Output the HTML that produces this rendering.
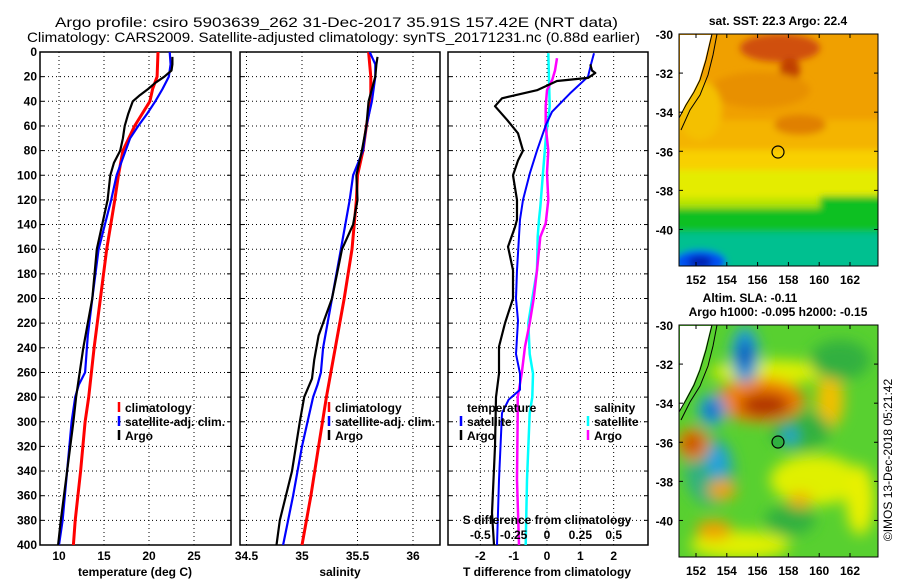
<!DOCTYPE html>
<html><head><meta charset="utf-8"><style>
html,body{margin:0;padding:0;background:#fff;}
svg{display:block;font-family:"Liberation Sans",sans-serif;}
.t{font-weight:bold;font-size:12px;fill:#000}
</style></head><body>
<svg id="fig" width="900" height="580" viewBox="0 0 900 580">
<defs>
<filter id="blur" filterUnits="userSpaceOnUse" x="600" y="0" width="300" height="600"><feGaussianBlur stdDeviation="7"/></filter>
<filter id="blurS" filterUnits="userSpaceOnUse" x="600" y="0" width="300" height="600"><feGaussianBlur stdDeviation="3.5"/></filter>
<clipPath id="clipTop"><rect x="679" y="34" width="199" height="232"/></clipPath>
<clipPath id="clipBot"><rect x="679" y="325" width="199" height="232"/></clipPath>
<clipPath id="c1"><rect x="40" y="52" width="191" height="493"/></clipPath>
<clipPath id="c2"><rect x="240" y="52" width="200" height="493"/></clipPath>
<clipPath id="c3"><rect x="448" y="52" width="200" height="493"/></clipPath>
</defs>
<text x="55" y="27" font-size="14" textLength="563" lengthAdjust="spacingAndGlyphs">Argo profile: csiro 5903639_262 31-Dec-2017 35.91S 157.42E (NRT data)</text>
<text x="27" y="42" font-size="14" textLength="613" lengthAdjust="spacingAndGlyphs">Climatology: CARS2009. Satellite-adjusted climatology: synTS_20171231.nc (0.88d earlier)</text>
<g id="panels"></g>

<!-- top map -->
<text x="778" y="25" text-anchor="middle" class="t">sat. SST: 22.3 Argo: 22.4</text>
<g clip-path="url(#clipTop)">
<rect x="679" y="34" width="199" height="232" fill="#f0a000"/>
<g filter="url(#blurS)">
<rect x="660" y="120" width="240" height="40" fill="#f4b400"/>
<rect x="660" y="150" width="240" height="40" fill="#f8d000"/>
<rect x="660" y="170" width="240" height="35" fill="#e4ec00"/>
<rect x="660" y="198" width="240" height="20" fill="#b8e400"/>
<rect x="660" y="208" width="240" height="30" fill="#10c020"/>
<rect x="820" y="196" width="80" height="20" fill="#10c020"/>
<rect x="660" y="232" width="240" height="40" fill="#00c090"/>
<ellipse cx="700" cy="262" rx="26" ry="12" fill="#0050f0"/>
<ellipse cx="700" cy="262" rx="12" ry="6" fill="#0020b0"/>
<ellipse cx="780" cy="48" rx="40" ry="14" fill="#d05010"/>
<ellipse cx="790" cy="70" rx="10" ry="12" fill="#c04000"/>
<ellipse cx="800" cy="125" rx="26" ry="10" fill="#e08000"/>
<ellipse cx="760" cy="90" rx="50" ry="18" fill="#e89000"/>
<ellipse cx="700" cy="110" rx="22" ry="30" fill="#f4c000"/>
</g>
</g>
<polygon points="680,35 711,35 705,60 699,80 693,92 685,105 680,116" fill="#ffffff"/>
<polyline points="712,34 706,60 700,80 694,92 686,105 679,118" fill="none" stroke="#000" stroke-width="1"/>
<polyline points="717,34 713,55 708,75 700,95 690,110 681,130" fill="none" stroke="#000" stroke-width="1"/>
<circle cx="778" cy="152" r="6" fill="none" stroke="#000" stroke-width="1.2"/>
<rect x="679" y="34" width="199" height="232" fill="none" stroke="#000"/>

<!-- bottom map -->
<text x="750" y="302" text-anchor="middle" class="t">Altim. SLA: -0.11</text>
<text x="778" y="316" text-anchor="middle" class="t">Argo h1000: -0.095 h2000: -0.15</text>
<g clip-path="url(#clipBot)">
<rect x="679" y="325" width="199" height="232" fill="#58d030"/>
<g filter="url(#blur)">
<ellipse cx="770" cy="372" rx="60" ry="12" fill="#e0f000"/>
<ellipse cx="815" cy="480" rx="45" ry="25" fill="#e0f000"/>
<ellipse cx="740" cy="545" rx="50" ry="14" fill="#e0f000"/>
<ellipse cx="860" cy="500" rx="14" ry="35" fill="#e8f000"/>
<ellipse cx="830" cy="400" rx="14" ry="28" fill="#f0c000"/>
<ellipse cx="840" cy="360" rx="30" ry="20" fill="#30b040"/>
<ellipse cx="800" cy="430" rx="30" ry="20" fill="#30b040"/>
<ellipse cx="790" cy="520" rx="25" ry="15" fill="#30b040"/>
<ellipse cx="710" cy="470" rx="25" ry="35" fill="#30b080"/>
<ellipse cx="760" cy="400" rx="45" ry="22" fill="#f08000"/>
<ellipse cx="765" cy="405" rx="25" ry="12" fill="#b03000"/>
<ellipse cx="745" cy="355" rx="14" ry="28" fill="#20a0e0"/>
<ellipse cx="745" cy="355" rx="6" ry="16" fill="#0030b0"/>
<ellipse cx="712" cy="410" rx="14" ry="16" fill="#20a0e0"/>
<ellipse cx="712" cy="410" rx="6" ry="7" fill="#0030b0"/>
<ellipse cx="693" cy="444" rx="16" ry="16" fill="#f08000"/>
<ellipse cx="693" cy="444" rx="8" ry="8" fill="#b03000"/>
<ellipse cx="717" cy="462" rx="10" ry="16" fill="#20a0e0"/>
<ellipse cx="790" cy="436" rx="7" ry="9" fill="#20a0e0"/>
<ellipse cx="722" cy="490" rx="14" ry="10" fill="#f0a000"/>
<ellipse cx="714" cy="530" rx="18" ry="10" fill="#f0a000"/>
<ellipse cx="800" cy="500" rx="12" ry="8" fill="#f0b000"/>
</g>
</g>
<polygon points="680,326 711,326 705,350 699,370 693,385 685,400 680,410" fill="#ffffff"/>
<polyline points="712,325 706,350 700,370 694,385 686,400 679,412" fill="none" stroke="#000"/>
<polyline points="717,325 713,346 708,366 700,386 690,402 681,420" fill="none" stroke="#000"/>
<circle cx="778" cy="442" r="6" fill="#30b040" stroke="#000" stroke-width="1.2"/>
<rect x="679" y="325" width="199" height="232" fill="none" stroke="#000"/>
<g id="mapaxes"></g>
<text transform="translate(892,460) rotate(-90)" text-anchor="middle" font-size="12">©IMOS 13-Dec-2018 05:21:42</text>
</svg>
<script>
// ---- data ----
const depthTicks = [0,20,40,60,80,100,120,140,160,180,200,220,240,260,280,300,320,340,360,380,400];
const tempTicks = [10,15,20,25];
const salTicks = [34.5,35,35.5,36];
const tdiffTicks = [-2,-1,0,1,2];
const sdiffTicks = [-0.5,-0.25,0,0.25,0.5];

const climTDepth = [0,20,30,40,60,80,100,120,160,200,240,280,300,340,380,400];
const climT =      [21.0,20.9,20.4,20.1,18.4,17.1,16.6,16.2,15.3,14.6,13.9,13.3,12.9,12.4,11.8,11.6];
const satTDepth = [0,10,20,30,40,50,60,70,80,100,120,160,200,230,260,270,280,300,340,380,400];
const satT =      [22.3,22.4,22.2,21.5,20.7,19.8,18.8,17.9,17.4,16.4,15.8,14.4,13.7,13.2,12.9,12.2,11.8,11.4,10.9,10.4,10.0];
const argoTDepth = [4,10,15,20,25,30,35,40,50,60,70,80,90,100,120,160,200,220,240,260,280,300,340,380,400];
const argoT =      [22.6,22.6,22.5,21.7,20.7,19.9,19.0,18.2,17.7,17.3,17.1,16.8,16.1,15.7,15.4,14.2,13.7,13.2,12.7,12.3,11.9,11.6,10.9,10.2,9.9];

const climSDepth = [0,20,40,60,80,100,120,160,200,240,280,320,360,400];
const climS =      [35.60,35.62,35.62,35.58,35.55,35.50,35.49,35.45,35.38,35.30,35.22,35.15,35.08,35.00];
const satSDepth = [0,10,20,40,60,80,100,120,160,200,240,260,270,280,320,360,400];
const satS =      [35.61,35.66,35.66,35.63,35.58,35.55,35.46,35.43,35.35,35.27,35.19,35.17,35.14,35.10,35.00,34.92,34.83];
const argoSDepth = [4,10,20,30,40,60,80,100,120,140,160,200,230,250,265,280,300,340,380,400];
const argoS =      [35.68,35.67,35.66,35.63,35.60,35.58,35.54,35.49,35.50,35.46,35.36,35.27,35.15,35.11,35.09,35.02,34.98,34.91,34.80,34.77];

const dTArgoDepth = [10,15,17,21,23.5,31,37.6,44,55,66,80,88,100,120,136,142,158,177,200,220,239,261,280,320,374,400];
const dTArgo =      [1.3,1.35,1.45,1.23,0.3,-0.3,-1.35,-1.56,-1.2,-0.87,-0.72,-0.87,-1.02,-0.9,-0.9,-0.96,-1.17,-1.02,-1.02,-1.26,-1.44,-1.44,-1.53,-1.56,-1.65,-1.59];
const dTSatDepth = [1,10,20,33.6,48.5,59,80,98,120,136,177,200,218,245,261,274,282,293,347,400];
const dTSat =      [1.41,1.32,1.23,0.69,0.15,-0.03,-0.3,-0.51,-0.72,-0.81,-0.9,-0.93,-0.87,-0.93,-0.81,-0.81,-1.15,-1.35,-1.44,-1.5];
const dSSatDepth = [1,44,71,98,126,136,150,177,200,220,245,261,280,293,347,400];
const dSSat =      [0.01,0.02,-0.01,-0.03,-0.05,-0.06,-0.07,-0.075,-0.11,-0.14,-0.13,-0.105,-0.11,-0.13,-0.15,-0.16];
const dSArgoDepth = [5,15,22.5,31,44,60,80,98,120,139,150,177,200,220,239,261,280,293,347,400];
const dSArgo =      [0.075,0.06,0.04,0,-0.01,-0.01,0.01,0,0.01,-0.01,-0.05,-0.075,-0.1,-0.13,-0.165,-0.19,-0.22,-0.22,-0.225,-0.21];

const latTicks = [-30,-32,-34,-36,-38,-40];
const lonTicks = [152,154,156,158,160,162];

// ---- scales ----
const Y0 = 52, Y1 = 545;
const yD = d => Y0 + d*(Y1-Y0)/400;
const xT = v => 59 + (v-10)*9;
const xS = v => 302 + (v-35)*111;
const xDT = v => 547 + v*33.33;
const xDS = v => 547 + v*133.33;
const NS = 'http://www.w3.org/2000/svg';
const root = document.getElementById('panels');
function mk(tag, attrs, parent){ const e=document.createElementNS(NS,tag); for(const k in attrs) e.setAttribute(k,attrs[k]); (parent||root).appendChild(e); return e; }

function panel(name, x0, x1, xs, ticks, fmt){
  const g = mk('g',{});
  
  
  depthTicks.forEach(d=>{
    if(d>0 && d<400){ const l=mk('line',{x1:x0,x2:x1,y1:yD(d),y2:yD(d),stroke:'#000','stroke-dasharray':'1,3'},g);
        }
    mk('line',{x1:x0,x2:x0+4,y1:yD(d),y2:yD(d),stroke:'#000'},g);
    mk('line',{x1:x1-4,x2:x1,y1:yD(d),y2:yD(d),stroke:'#000'},g);
  });
  ticks.forEach(v=>{
    const x=xs(v);
    const l=mk('line',{x1:x,x2:x,y1:Y0,y2:Y1,stroke:'#000','stroke-dasharray':'1,3'},g);
     
    if(fmt){ const t=mk('text',{x:x,y:560,'text-anchor':'middle',class:'t'},g); t.textContent=fmt(v);
        }
  });
  const r=mk('rect',{x:x0,y:Y0,width:x1-x0,height:Y1-Y0,fill:'none',stroke:'#000','stroke-width':1.5},g);
   
  return g;
}
function line(g, depths, vals, xs, color, w, name, clip){
  const pts = depths.map((d,i)=>xs(vals[i]).toFixed(1)+','+yD(d).toFixed(1)).join(' ');
  const p = mk('polyline',{points:pts,fill:'none',stroke:color,'stroke-width':w,'stroke-linejoin':'round','clip-path':clip},g);
  
  
}
function txt(x,y,s,name,anchor,g){ const t=mk('text',{x:x,y:y,class:'t','text-anchor':anchor||'start'},g); t.textContent=s;
    return t; }
function legMark(x,y,color,g){ const l=mk('line',{x1:x,x2:x,y1:y-10,y2:y,stroke:color,'stroke-width':2.5},g);
    }

depthTicks.forEach(d=>{ txt(37, yD(d)+4, String(d), 'y-tick-label','end'); });

const g1 = panel('temperature-panel',40,231,xT,tempTicks,v=>String(v));
line(g1, climTDepth, climT, xT, '#ff0000', 3, 'climatology-temperature-line','url(#c1)');
line(g1, satTDepth, satT, xT, '#0000ff', 2.2, 'satellite-temperature-line','url(#c1)');
line(g1, argoTDepth, argoT, xT, '#000000', 2.2, 'argo-temperature-line','url(#c1)');
txt(135,576,'temperature (deg C)','x-axis-title-temperature','middle');
legMark(119,412,'#ff0000',g1); txt(125,412,'climatology','legend-climatology');
legMark(119,426,'#0000ff',g1); txt(125,426,'satellite-adj. clim.','legend-satellite');
legMark(119,440,'#000',g1); txt(125,440,'Argo','legend-argo');

const g2 = panel('salinity-panel',240,440,xS,salTicks,v=>String(v));
line(g2, climSDepth, climS, xS, '#ff0000', 3, 'climatology-salinity-line','url(#c2)');
line(g2, satSDepth, satS, xS, '#0000ff', 2.2, 'satellite-salinity-line','url(#c2)');
line(g2, argoSDepth, argoS, xS, '#000000', 2.2, 'argo-salinity-line','url(#c2)');
txt(340,576,'salinity','x-axis-title-salinity','middle');
legMark(329,412,'#ff0000',g2); txt(335,412,'climatology','legend-climatology-2');
legMark(329,426,'#0000ff',g2); txt(335,426,'satellite-adj. clim.','legend-satellite-2');
legMark(329,440,'#000',g2); txt(335,440,'Argo','legend-argo-2');

const g3 = panel('difference-panel',448,648,xDT,tdiffTicks,v=>String(v));
line(g3, dSSatDepth, dSSat, xDS, '#00ffff', 2.5, 'salinity-satellite-diff-line','url(#c3)');
line(g3, dSArgoDepth, dSArgo, xDS, '#ff00ff', 2.5, 'salinity-argo-diff-line','url(#c3)');
line(g3, dTSatDepth, dTSat, xDT, '#0000ff', 2, 'temperature-satellite-diff-line','url(#c3)');
line(g3, dTArgoDepth, dTArgo, xDT, '#000000', 2.2, 'temperature-argo-diff-line','url(#c3)');
sdiffTicks.forEach(v=>{ txt(xDS(v), 539, String(v), 's-diff-tick-label','middle'); });
txt(547,524,'S difference from climatology','s-diff-axis-title','middle');
txt(547,576,'T difference from climatology','t-diff-axis-title','middle');
txt(467,412,'temperature','legend-temperature-header');
legMark(461,426,'#0000ff',g3); txt(467,426,'satellite','legend-t-satellite');
legMark(461,440,'#000',g3); txt(467,440,'Argo','legend-t-argo');
txt(594,412,'salinity','legend-salinity-header');
legMark(588,426,'#00ffff',g3); txt(594,426,'satellite','legend-s-satellite');
legMark(588,440,'#ff00ff',g3); txt(594,440,'Argo','legend-s-argo');

const ma = document.getElementById('mapaxes');
[[34,266],[325,557]].forEach(([top,bot])=>{
  const yl = lat => top + (-30-lat)*((bot-top)/11.87);
  latTicks.forEach(l=>{ const y=yl(l); const t=txt(673,y+5,String(l),'map-lat-label','end',ma); t.setAttribute('font-size','13');
    mk('line',{x1:679,x2:683,y1:y,y2:y,stroke:'#000'},ma); mk('line',{x1:874,x2:878,y1:y,y2:y,stroke:'#000'},ma); });
  lonTicks.forEach(L=>{ const x=696+(L-152)*15.4; const t=txt(x,bot+18,String(L),'map-lon-label','middle',ma); t.setAttribute('font-size','13');
    mk('line',{x1:x,x2:x,y1:bot-4,y2:bot,stroke:'#000'},ma); mk('line',{x1:x,x2:x,y1:top,y2:top+4,stroke:'#000'},ma); });
});
</script>
</body></html>
